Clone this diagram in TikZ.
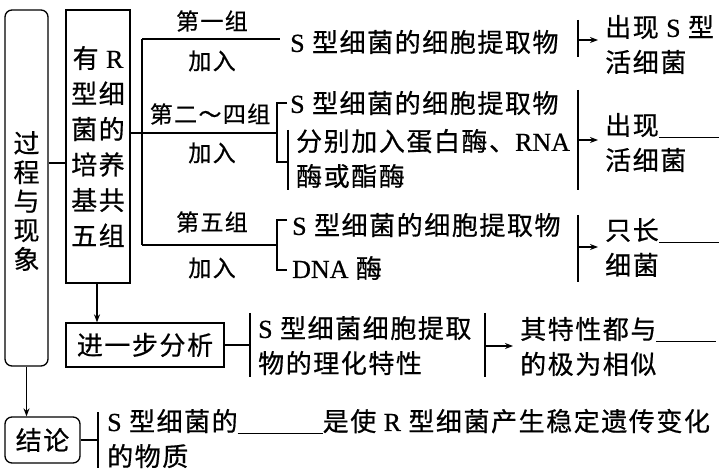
\documentclass[tikz,border=0pt]{standalone}
\usepackage{fontspec}
\setmainfont{Liberation Serif}[FakeBold=0.6]
\newfontfamily\cjk[LetterSpace=6,FakeBold=0.6]{Noto Sans CJK SC}
\usetikzlibrary{arrows.meta}

\newcommand{\lat}[1]{{\rmfamily #1}}
\newcommand{\blank}[1]{\rule[-3pt]{#1}{0.9pt}}

\tikzset{
  frame/.style={draw, line width=1.3pt},
  txt/.style={inner sep=0pt, align=left, font=\cjk\fontsize{26}{35}\selectfont},
  lbl/.style={inner sep=0pt, font=\cjk\fontsize{23}{28}\selectfont},
  tip/.style={line width=1.3pt, -{Stealth[length=8pt,width=6pt]}},
}

\begin{document}
\begin{tikzpicture}[x=1pt, y=-1pt]

\useasboundingbox (0,0) rectangle (721,473);

% Boxes on the left
\node[frame, rounded corners=7pt, minimum width=43pt, minimum height=356pt] (proc) at (26.5,188) {};
\node[txt, align=center, font=\cjk\fontsize{26}{29}\selectfont] (proctxt) at (26.5,201) {过\\程\\与\\现\\象};

\node[frame, txt, align=center, font=\cjk\fontsize{26}{35.5}\selectfont,
  minimum width=64pt, minimum height=273pt] (rbox) at (98,146.5)
  {有 \lat{R}\\型细\\菌的\\培养\\基共\\五组};

\draw[frame] (proc.east |- 0,163) -- (rbox.west |- 0,163);

% Trunk and branches
\coordinate (trunk) at (142,133);
\coordinate (b1) at (142,39);
\coordinate (b5) at (142,245);
\coordinate (k1) at (280,39);
\coordinate (k2) at (277,133);
\coordinate (k5) at (277,245);

\draw[frame] (rbox.east |- trunk) -- (trunk);
\draw[frame] (b1) -- (b5);
\draw[frame] (b1) -- (k1);
\draw[frame] (trunk) -- (k2);
\draw[frame] (b5) -- (k5);

\node[lbl] (g1) at (212,21) {第一组};
\node[lbl] (j1) at (212,61) {加入};
\node[lbl] (g2) at (210,114) {第二～四组};
\node[lbl] (j2) at (212,153) {加入};
\node[lbl] (g5) at (212,222) {第五组};
\node[lbl] (j5) at (212,268) {加入};

% First group
\node[txt, anchor=west] (s1) at (290,42) {\lat{S} 型细菌的细胞提取物};
\coordinate (bar1) at (578,40);
\draw[frame] (578,20) -- (578,57);
\node[txt, anchor=west] (res1) at (605,44.5) {出现 \lat{S} 型\\活细菌};
\draw[tip, shorten >=7pt] (bar1) -- (bar1 -| res1.west);

% Groups two to four
\draw[frame] (287,103) -- (277,103) -- (277,162) -- (288,162);
\draw[frame] (288,130) -- (288,190);
\node[txt, anchor=west] (s2) at (290,103) {\lat{S} 型细菌的细胞提取物};
\node[txt, anchor=west] (s3) at (296,158.5) {分别加入蛋白酶、\lat{RNA}\\酶或酯酶};
\coordinate (bar2) at (578,140);
\draw[frame] (578,90) -- (578,190);
\node[txt, anchor=west] (res2) at (605,142.5) {出现\blank{60pt}\\活细菌};
\draw[tip, shorten >=7pt] (bar2) -- (bar2 -| res2.west);

% Group five
\draw[frame] (287,220) -- (277,220) -- (277,270) -- (287,270);
\node[txt, anchor=west] (s4) at (292,225) {\lat{S} 型细菌的细胞提取物};
\node[txt, anchor=west] (s5) at (292,268) {\lat{DNA} 酶};
\coordinate (bar5) at (578,247);
\draw[frame] (578,215) -- (578,282);
\node[txt, anchor=west] (res5) at (605,247.5) {只长\blank{60pt}\\细菌};
\draw[tip, shorten >=7pt] (bar5) -- (bar5 -| res5.west);

% Further analysis
\node[frame, txt, align=center, minimum width=158pt, minimum height=44pt] (anal) at (145,345) {进一步分析};
\draw[tip] (rbox.south -| 97,0) -- (anal.north -| 97,0);
\coordinate (bar6) at (250,345);
\draw[frame] (250,313) -- (250,377);
\draw[frame] (anal.east) -- (bar6);
\node[txt, anchor=west] (an1) at (258,345.5) {\lat{S} 型细菌细胞提取\\物的理化特性};
\coordinate (bar7) at (485,346);
\draw[frame] (485,313) -- (485,377);
\node[txt, anchor=west] (an2) at (520,346.5) {其特性都与\blank{60pt}\\的极为相似};
\draw[tip, shorten >=7pt] (bar7) -- (bar7 -| an2.west);

% Conclusion
\node[frame, txt, align=center, rounded corners=7pt, minimum width=75pt, minimum height=46pt] (concl) at (42.5,440) {结论};
\draw[tip] (proc.south) -- (concl.north -| proc.south);
\coordinate (bar8) at (98,440);
\draw[frame] (98,412) -- (98,468);
\draw[frame] (concl.east) -- (bar8);
\node[txt, anchor=west] (cl) at (107,438.5) {\lat{S} 型细菌的\blank{85pt}是使 \lat{R} 型细菌产生稳定遗传变化\\的物质};

\end{tikzpicture}
\end{document}
